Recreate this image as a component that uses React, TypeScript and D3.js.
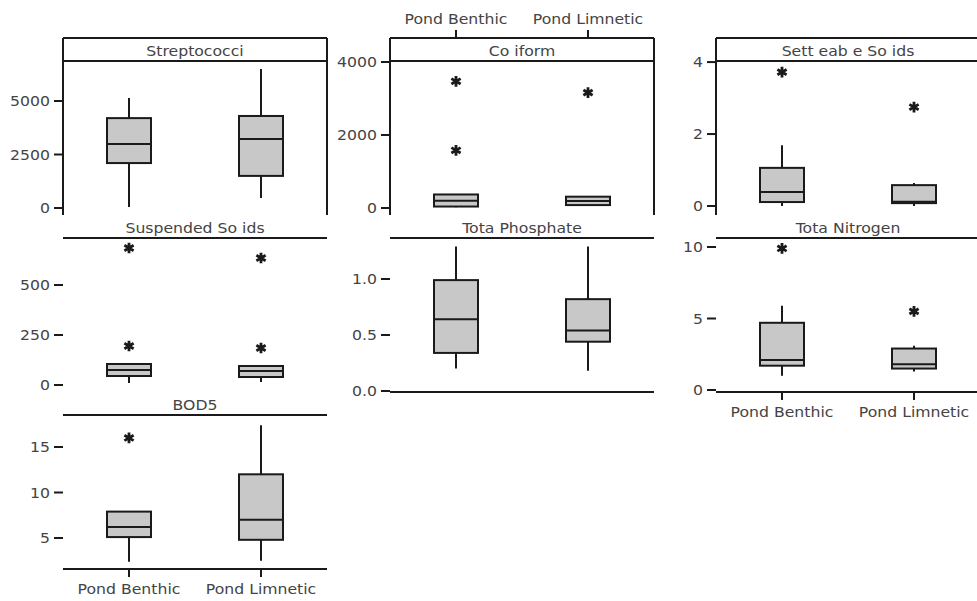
import React from 'react';
import * as d3 from 'd3';

// groups on the x axis
const groups = ['Pond Benthic', 'Pond Limnetic'];

// panel titles, as printed in the strips
const panelNames = ['Streptococci', 'Co iform', 'Sett eab e So ids', 'Suspended So ids', 'Tota Phosphate', 'Tota Nitrogen', 'BOD5'];

// [low whisker, q1, median, q3, high whisker] for Benthic, Limnetic
const streptococciStats = [[50, 2100, 2990, 4200, 5140], [470, 1500, 3220, 4300, 6500]];
const coliformStats = [[20, 40, 200, 370, 380], [60, 80, 190, 310, 320]];
const settleableStats = [[0.0, 0.11, 0.39, 1.06, 1.69], [0.0, 0.08, 0.12, 0.58, 0.64]];
const suspendedStats = [[10, 45, 75, 105, 108], [15, 40, 70, 95, 98]];
const phosphateStats = [[0.2, 0.34, 0.64, 0.99, 1.29], [0.18, 0.44, 0.54, 0.82, 1.29]];
const nitrogenStats = [[1.0, 1.7, 2.1, 4.7, 5.9], [1.3, 1.5, 1.8, 2.9, 3.1]];
const bod5Stats = [[2.4, 5.1, 6.2, 7.9, 7.9], [2.5, 4.8, 7.0, 12.0, 17.4]];

// outliers per group
const streptococciOut = [[], []];
const coliformOut = [[3470, 1580], [3160]];
const settleableOut = [[3.72], [2.75]];
const suspendedOut = [[685, 195], [635, 185]];
const phosphateOut = [[], []];
const nitrogenOut = [[9.9], [5.5]];
const bod5Out = [[16.0], []];

// y ticks per panel
const streptococciTicks = [0, 2500, 5000];
const coliformTicks = [0, 2000, 4000];
const settleableTicks = [0, 2, 4];
const suspendedTicks = [0, 250, 500];
const phosphateTicks = [0.0, 0.5, 1.0];
const nitrogenTicks = [0, 5, 10];
const bod5Ticks = [5, 10, 15];

// y extents per panel
const streptococciDomain = [-327, 6869];
const coliformDomain = [-192, 4027];
const settleableDomain = [-0.25, 4.03];
const suspendedDomain = [-35, 735];
const phosphateDomain = [-0.009, 1.366];
const nitrogenDomain = [-0.14, 10.63];
const bod5Domain = [1.59, 18.52];

const panels = [
  { stats: streptococciStats, out: streptococciOut, ticks: streptococciTicks, domain: streptococciDomain, fmt: (d) => String(d), row: 0, col: 0 },
  { stats: coliformStats, out: coliformOut, ticks: coliformTicks, domain: coliformDomain, fmt: (d) => String(d), row: 0, col: 1 },
  { stats: settleableStats, out: settleableOut, ticks: settleableTicks, domain: settleableDomain, fmt: (d) => String(d), row: 0, col: 2 },
  { stats: suspendedStats, out: suspendedOut, ticks: suspendedTicks, domain: suspendedDomain, fmt: (d) => String(d), row: 1, col: 0 },
  { stats: phosphateStats, out: phosphateOut, ticks: phosphateTicks, domain: phosphateDomain, fmt: d3.format('.1f'), row: 1, col: 1 },
  { stats: nitrogenStats, out: nitrogenOut, ticks: nitrogenTicks, domain: nitrogenDomain, fmt: (d) => String(d), row: 1, col: 2 },
  { stats: bod5Stats, out: bod5Out, ticks: bod5Ticks, domain: bod5Domain, fmt: (d) => String(d), row: 2, col: 0 },
].map((p, i) => ({ ...p, name: panelNames[i] }));

const W = 977;
const H = 601;
const colLeft = [63, 390, 716];
const panelW = 264;
const rowTop = [38, 215, 392];
const stripH = 23;
const plotH = 154;
const boxW = 44;
const font = "'DejaVu Sans', Verdana, sans-serif";
const ink = '#1a1a1a';
const textCol = '#444';

const asterisk = d3.symbol(d3.symbolAsterisk, 80)();

// text a bit wider than DejaVu, like the scanned original
const Label = ({ x, y, anchor, children }) => (
  <text transform={`translate(${x},${y}) scale(1.12,1)`} textAnchor={anchor} fontFamily={font} fontSize={14} fill={textCol}>
    {children}
  </text>
);

function Panel({ p }) {
  const x0 = colLeft[p.col];
  const top = rowTop[p.row];
  const y0 = top + stripH;
  const y1 = y0 + plotH;
  const x = d3.scalePoint().domain(groups).range([x0, x0 + panelW]).padding(0.5);
  const y = d3.scaleLinear().domain(p.domain).range([y1, y0]);
  const isBottom = p.row === 2 || (p.row === 1 && p.col > 0);

  return (
    <g>
      {p.row === 0 && (
        <g stroke={ink} strokeWidth={2} fill="none">
          <line x1={x0} x2={x0 + panelW} y1={top} y2={top} />
          <line x1={x0} x2={x0} y1={top} y2={y1} />
          <line x1={x0 + panelW} x2={x0 + panelW} y1={top} y2={y1} />
        </g>
      )}
      <line x1={x0} x2={x0 + panelW} y1={y0} y2={y0} stroke={ink} strokeWidth={2} />
      {isBottom && <line x1={x0} x2={x0 + panelW} y1={y1} y2={y1} stroke={ink} strokeWidth={2} />}
      <Label x={x0 + panelW / 2} y={top + 18} anchor="middle">{p.name}</Label>

      {/* y axis */}
      {p.ticks.map((t) => (
        <g key={t}>
          <line x1={x0 - 9} x2={x0} y1={y(t)} y2={y(t)} stroke={ink} strokeWidth={2} />
          <Label x={x0 - 13} y={y(t) + 5} anchor="end">{p.fmt(t)}</Label>
        </g>
      ))}

      {/* x axis: bottom for cols 1 and 3, top for col 2 */}
      {isBottom && p.col !== 1 && groups.map((g) => (
        <g key={g}>
          <line x1={x(g)} x2={x(g)} y1={y1} y2={y1 + 8} stroke={ink} strokeWidth={2} />
          <Label x={x(g)} y={y1 + 25} anchor="middle">{g}</Label>
        </g>
      ))}
      {p.row === 0 && p.col === 1 && groups.map((g) => (
        <g key={g}>
          <line x1={x(g)} x2={x(g)} y1={top - 8} y2={top} stroke={ink} strokeWidth={2} />
          <Label x={x(g)} y={top - 14} anchor="middle">{g}</Label>
        </g>
      ))}

      {/* boxes */}
      {groups.map((g, i) => {
        const [lo, q1, med, q3, hi] = p.stats[i];
        const cx = x(g);
        return (
          <g key={g} stroke={ink} strokeWidth={2}>
            <line x1={cx} x2={cx} y1={y(hi)} y2={y(q3)} />
            <line x1={cx} x2={cx} y1={y(q1)} y2={y(lo)} />
            <rect x={cx - boxW / 2} y={y(q3)} width={boxW} height={Math.max(1, y(q1) - y(q3))} fill="#c8c8c8" />
            <line x1={cx - boxW / 2} x2={cx + boxW / 2} y1={y(med)} y2={y(med)} />
            {p.out[i].map((o, k) => (
              <path key={k} d={asterisk} transform={`translate(${cx},${y(o)})`} strokeWidth={2.8} fill="none" />
            ))}
          </g>
        );
      })}
    </g>
  );
}

export default function App() {
  return (
    <>
      <style>{'body{margin:0}'}</style>
      <svg width={W} height={H} viewBox={`0 0 ${W} ${H}`} style={{ display: 'block', background: '#fff' }}>
        {panels.map((p) => (
          <Panel key={p.name} p={p} />
        ))}
      </svg>
    </>
  );
}
